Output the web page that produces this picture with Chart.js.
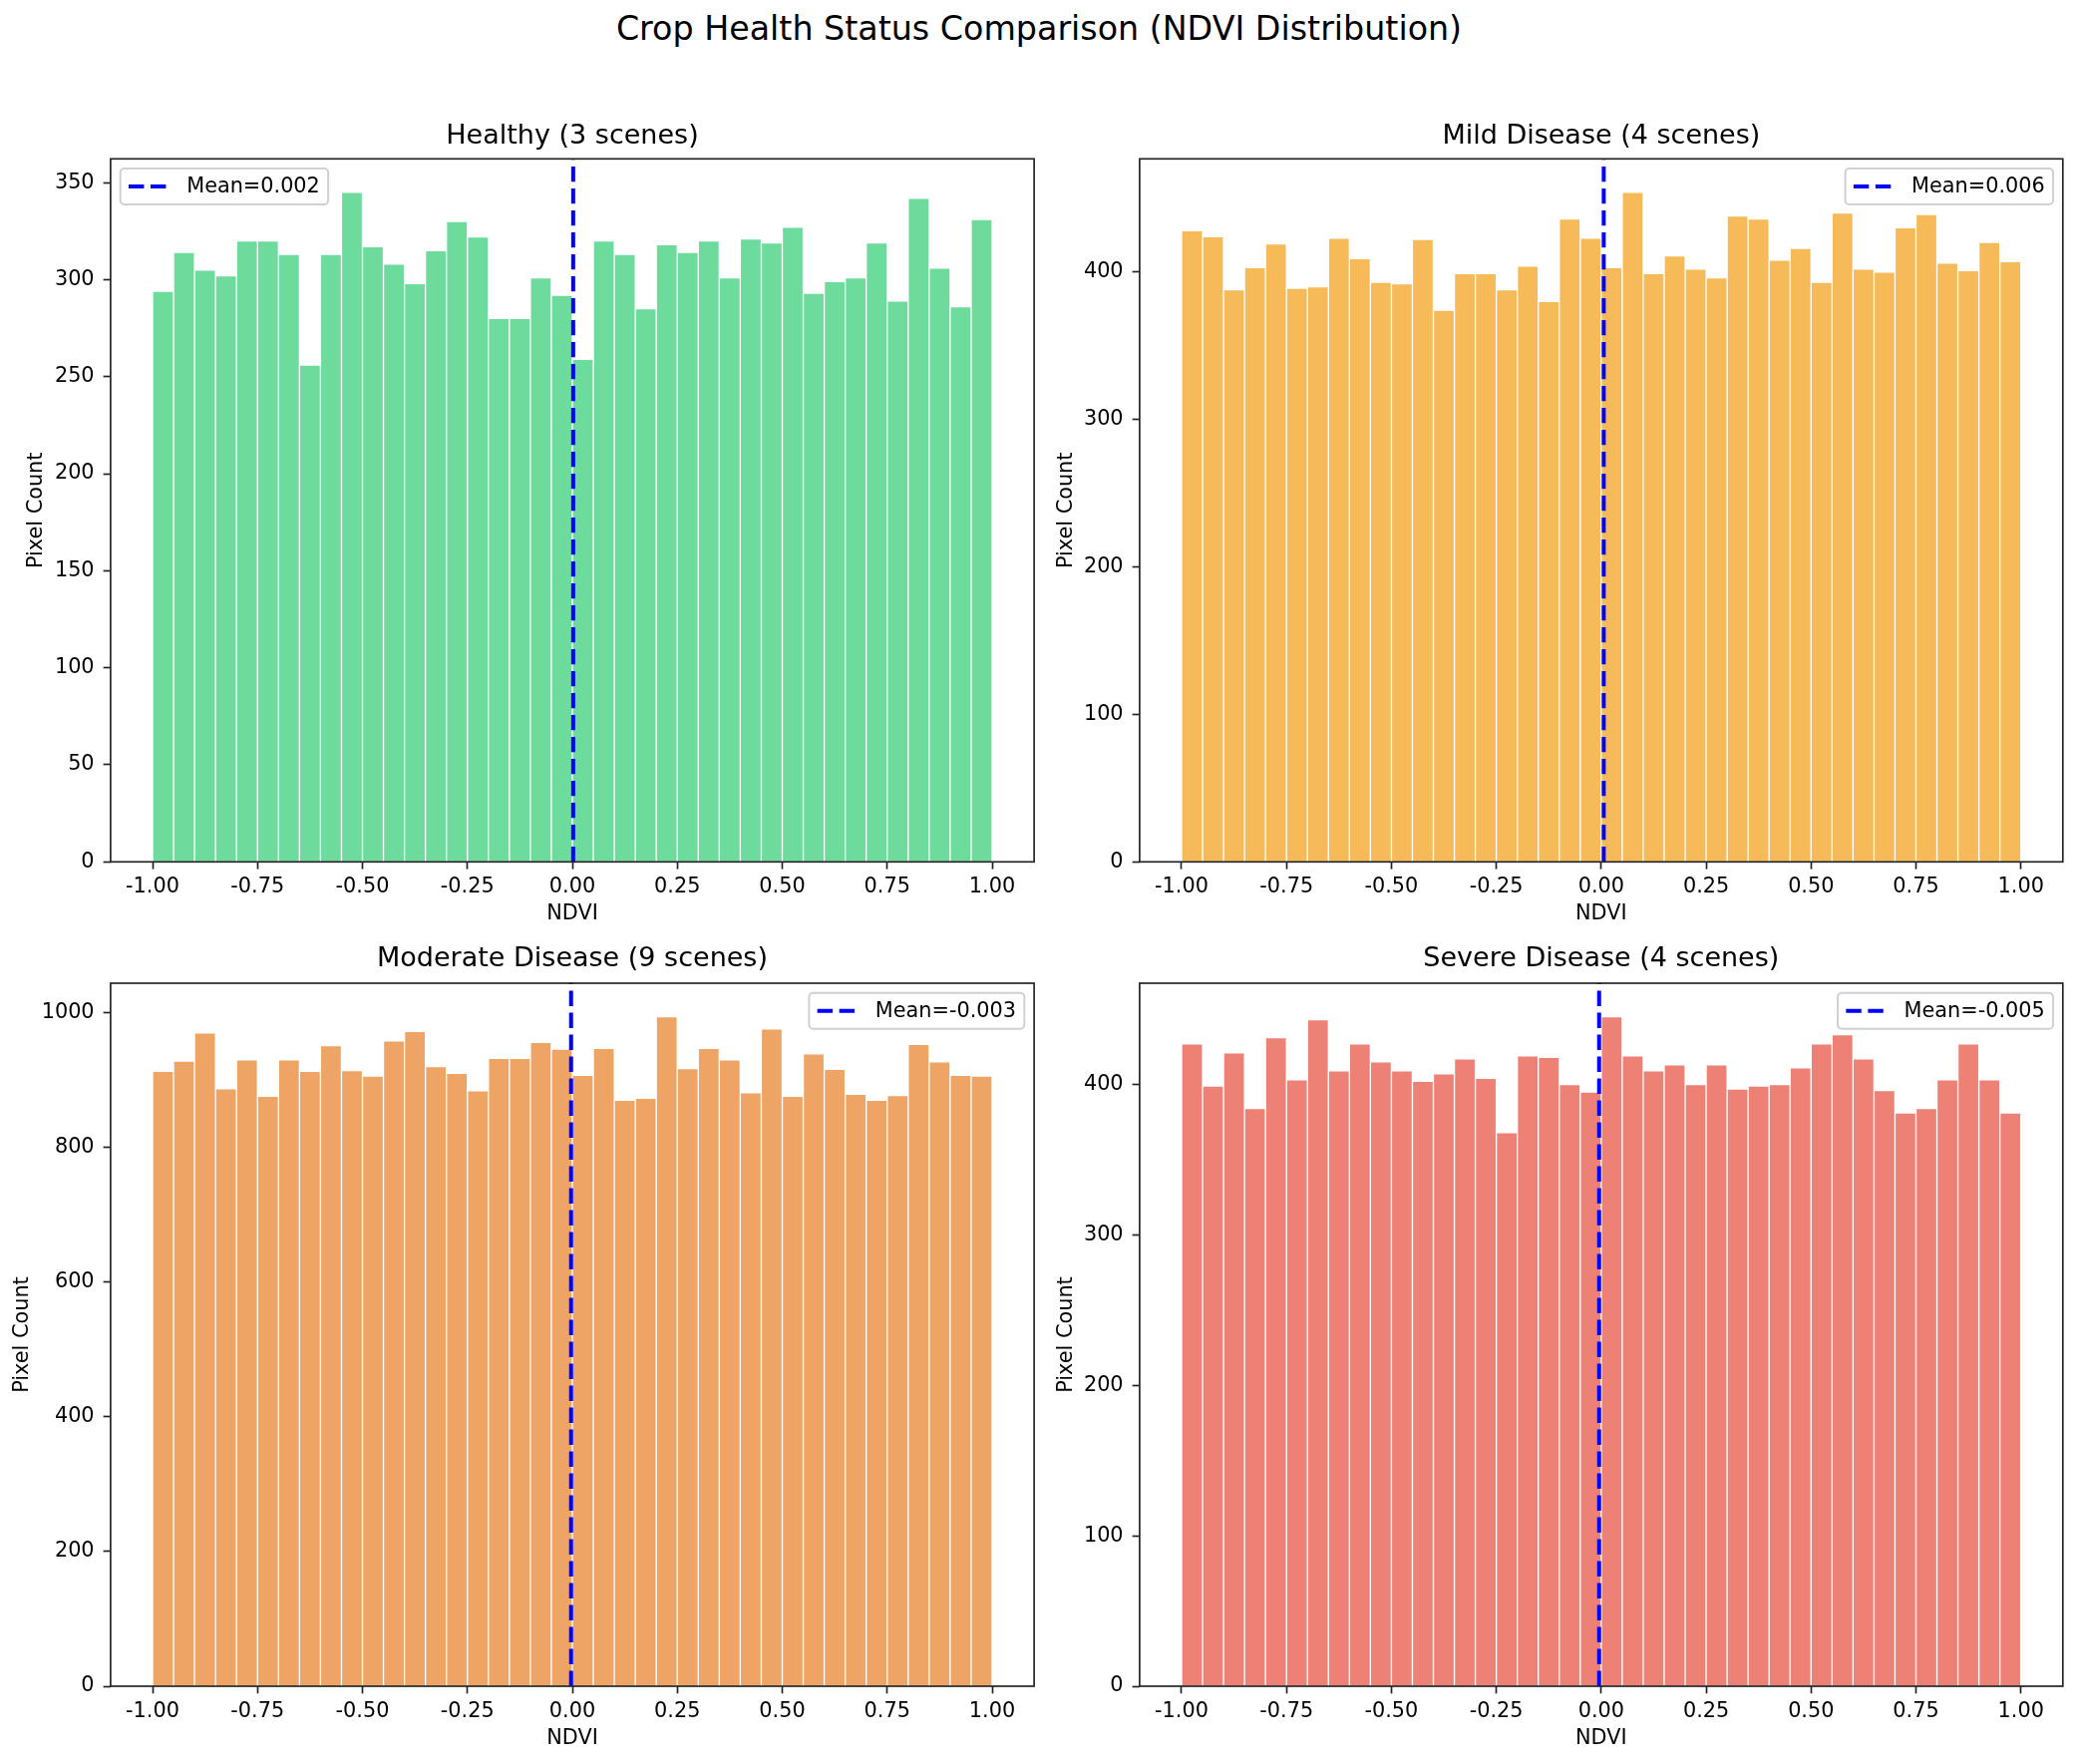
<!DOCTYPE html>
<html>
<head>
<meta charset="utf-8">
<title>Crop Health Status Comparison</title>
<script src="https://cdn.jsdelivr.net/npm/chart.js"></script>
<style>
	body { margin: 0; background: #fff; }
	#page { position: relative; width: 2084px; height: 1769px; background: #fff; font-family: 'DejaVu Sans', sans-serif; }
	#suptitle { position: absolute; left: 0; top: 9px; width: 2084px; text-align: center; font-size: 33.3px; line-height: 40px; color: #000; }
	canvas { position: absolute; }
</style>
</head>
<body>
<div id="page">
	<div id="suptitle">Crop Health Status Comparison (NDVI Distribution)</div>
	<canvas id="panel0"></canvas>
	<canvas id="panel1"></canvas>
	<canvas id="panel2"></canvas>
	<canvas id="panel3"></canvas>
</div>
<script>
// NDVI bin centres (40 bins from -1 to 1)
const binCenters = [
	-0.975, -0.925, -0.875, -0.825, -0.775, -0.725, -0.675, -0.625, -0.575, -0.525,
	-0.475, -0.425, -0.375, -0.325, -0.275, -0.225, -0.175, -0.125, -0.075, -0.025,
	0.025, 0.075, 0.125, 0.175, 0.225, 0.275, 0.325, 0.375, 0.425, 0.475,
	0.525, 0.575, 0.625, 0.675, 0.725, 0.775, 0.825, 0.875, 0.925, 0.975
];
const xTicks = [-1, -0.75, -0.5, -0.25, 0, 0.25, 0.5, 0.75, 1];

// Pixel counts per bin
const healthyCounts = [294, 314, 305, 302, 320, 320, 313, 256, 313, 345, 317, 308, 298, 315, 330, 322, 280, 280, 301, 292,
	259, 320, 313, 285, 318, 314, 320, 301, 321, 319, 327, 293, 299, 301, 319, 289, 342, 306, 286, 331];
const mildCounts = [428, 424, 388, 403, 419, 389, 390, 423, 409, 393, 392, 422, 374, 399, 399, 388, 404, 380, 436, 423,
	403, 454, 399, 411, 402, 396, 438, 436, 408, 416, 393, 440, 402, 400, 430, 439, 406, 401, 420, 407];
const moderateCounts = [913, 928, 970, 887, 930, 876, 930, 913, 951, 914, 906, 958, 972, 920, 910, 884, 932, 932, 956, 946,
	907, 947, 870, 873, 994, 917, 947, 930, 881, 976, 876, 939, 916, 879, 870, 877, 953, 927, 907, 906];
const severeCounts = [427, 399, 421, 384, 431, 403, 443, 409, 427, 415, 409, 402, 407, 417, 404, 368, 419, 418, 400, 395,
	445, 419, 409, 413, 400, 413, 397, 399, 400, 411, 427, 433, 417, 396, 381, 384, 403, 427, 403, 381];

const panelTitles = ['Healthy (3 scenes)', 'Mild Disease (4 scenes)', 'Moderate Disease (9 scenes)', 'Severe Disease (4 scenes)'];
const panelCounts = [healthyCounts, mildCounts, moderateCounts, severeCounts];
const meanValues = [0.002, 0.006, -0.003, -0.005];
const yTickSets = [
	[0, 50, 100, 150, 200, 250, 300, 350],
	[0, 100, 200, 300, 400],
	[0, 200, 400, 600, 800, 1000],
	[0, 100, 200, 300, 400]
];
const barColors = ['rgba(46, 204, 113, 0.7)', 'rgba(243, 156, 18, 0.7)', 'rgba(230, 126, 34, 0.7)', 'rgba(231, 76, 60, 0.7)'];
const legendSide = ['left', 'right', 'right', 'right'];

// Canvas placement and axis box sizes for each panel
const panelBoxes = [
	{ left: 0, top: 100, width: 1046, height: 840, yAxisW: 110.9, padRight: 8.9, titleTop: 20.8, titleBottom: 6.1, xAxisH: 75.7, yTitlePad: 24.5, xTitlePad: 10.5 },
	{ left: 1046, top: 100, width: 1038, height: 840, yAxisW: 96.9, padRight: 15.2, titleTop: 20.8, titleBottom: 6.1, xAxisH: 75.7, yTitlePad: 11, xTitlePad: 10.5 },
	{ left: 0, top: 940, width: 1046, height: 829, yAxisW: 110.9, padRight: 8.9, titleTop: 5.8, titleBottom: 7.8, xAxisH: 78, yTitlePad: 10, xTitlePad: 12.5 },
	{ left: 1046, top: 940, width: 1038, height: 829, yAxisW: 96.9, padRight: 15.2, titleTop: 5.8, titleBottom: 7.8, xAxisH: 78, yTitlePad: 11, xTitlePad: 12.5 }
];

Chart.defaults.font.family = "'DejaVu Sans', sans-serif";
Chart.defaults.color = '#000';

const FONT = 20.8;
const SPINE = '#222';

// Draw the axes frame and a matplotlib-like legend
const framePlugin = {
	id: 'frame',
	afterDraw(chart, args, opts) {
		const ctx = chart.ctx;
		const area = chart.chartArea;
		ctx.save();
		ctx.strokeStyle = SPINE;
		ctx.lineWidth = 1.67;
		ctx.strokeRect(area.left, area.top, area.right - area.left, area.bottom - area.top);

		// legend
		ctx.font = FONT + "px 'DejaVu Sans', sans-serif";
		const text = 'Mean=' + opts.mean.toFixed(3);
		const tw = ctx.measureText(text).width;
		const pad = 8.3, handle = 41.6, gap = 16.6;
		const w = pad + handle + gap + tw + pad;
		const h = 36;
		const x0 = opts.side === 'left' ? area.left + 9.8 : area.right - 9.8 - w;
		const y0 = area.top + 9.7;
		ctx.beginPath();
		ctx.roundRect(x0, y0, w, h, 4);
		ctx.fillStyle = 'rgba(255, 255, 255, 0.8)';
		ctx.fill();
		ctx.strokeStyle = 'rgba(204, 204, 204, 0.9)';
		ctx.lineWidth = 2;
		ctx.stroke();
		ctx.beginPath();
		ctx.setLineDash([15.4, 6.6]);
		ctx.strokeStyle = '#0000ff';
		ctx.lineWidth = 4;
		ctx.moveTo(x0 + pad, y0 + h / 2);
		ctx.lineTo(x0 + pad + handle, y0 + h / 2);
		ctx.stroke();
		ctx.setLineDash([]);
		ctx.fillStyle = '#000';
		ctx.textBaseline = 'middle';
		ctx.fillText(text, x0 + pad + handle + gap, y0 + h / 2 + 1);
		ctx.restore();
	}
};

function createPanel(i) {
	const box = panelBoxes[i];
	const canvas = document.getElementById('panel' + i);
	canvas.width = box.width;
	canvas.height = box.height;
	canvas.style.left = box.left + 'px';
	canvas.style.top = box.top + 'px';
	canvas.style.width = box.width + 'px';
	canvas.style.height = box.height + 'px';

	const counts = panelCounts[i];
	const yMax = Math.max(...counts) * 1.05;
	const yTicks = yTickSets[i];

	new Chart(canvas, {
		type: 'bar',
		data: {
			datasets: [
				{
					type: 'line',
					label: 'Mean',
					data: [{ x: meanValues[i], y: 0 }, { x: meanValues[i], y: yMax }],
					borderColor: '#0000ff',
					borderWidth: 4,
					borderDash: [15.4, 6.6],
					pointRadius: 0,
					fill: false,
					order: 0
				},
				{
					type: 'bar',
					label: 'NDVI',
					data: binCenters.map((c, k) => ({ x: c, y: counts[k] })),
					backgroundColor: barColors[i],
					borderColor: 'rgba(255, 255, 255, 0.85)',
					borderWidth: 1,
					barPercentage: 1,
					categoryPercentage: 1,
					order: 1
				}
			]
		},
		options: {
			responsive: false,
			animation: false,
			layout: { padding: { left: 0, right: box.padRight, top: 0, bottom: 0 } },
			plugins: {
				legend: { display: false },
				tooltip: { enabled: false },
				title: {
					display: true,
					text: panelTitles[i],
					fullSize: false,
					font: { size: 27, weight: 'normal' },
					color: '#000',
					padding: { top: box.titleTop, bottom: box.titleBottom }
				},
				frame: { mean: meanValues[i], side: legendSide[i] }
			},
			scales: {
				x: {
					type: 'linear',
					offset: false,
					min: -1.1,
					max: 1.1,
					afterBuildTicks: scale => { scale.ticks = xTicks.map(v => ({ value: v })); },
					afterFit: scale => { scale.height = box.xAxisH; },
					ticks: {
						autoSkip: false,
						maxRotation: 0,
						padding: 6,
						font: { size: FONT },
						callback: v => Number(v).toFixed(2)
					},
					grid: { offset: false, drawOnChartArea: false, drawTicks: true, tickLength: 7.3, tickWidth: 1.67, tickColor: SPINE },
					border: { display: false },
					title: { display: true, text: 'NDVI', font: { size: FONT }, padding: { top: 0, bottom: box.xTitlePad } }
				},
				y: {
					type: 'linear',
					min: 0,
					max: yMax,
					afterBuildTicks: scale => { scale.ticks = yTicks.map(v => ({ value: v })); },
					afterFit: scale => { scale.width = box.yAxisW; },
					ticks: {
						padding: 9,
						font: { size: FONT },
						callback: v => String(v)
					},
					grid: { drawOnChartArea: false, drawTicks: true, tickLength: 7.3, tickWidth: 1.67, tickColor: SPINE },
					border: { display: false },
					title: { display: true, text: 'Pixel Count', font: { size: FONT }, padding: { top: box.yTitlePad, bottom: 0 } }
				}
			}
		},
		plugins: [framePlugin]
	});
}

for (let i = 0; i < 4; i++) {
	createPanel(i);
}
</script>
</body>
</html>
